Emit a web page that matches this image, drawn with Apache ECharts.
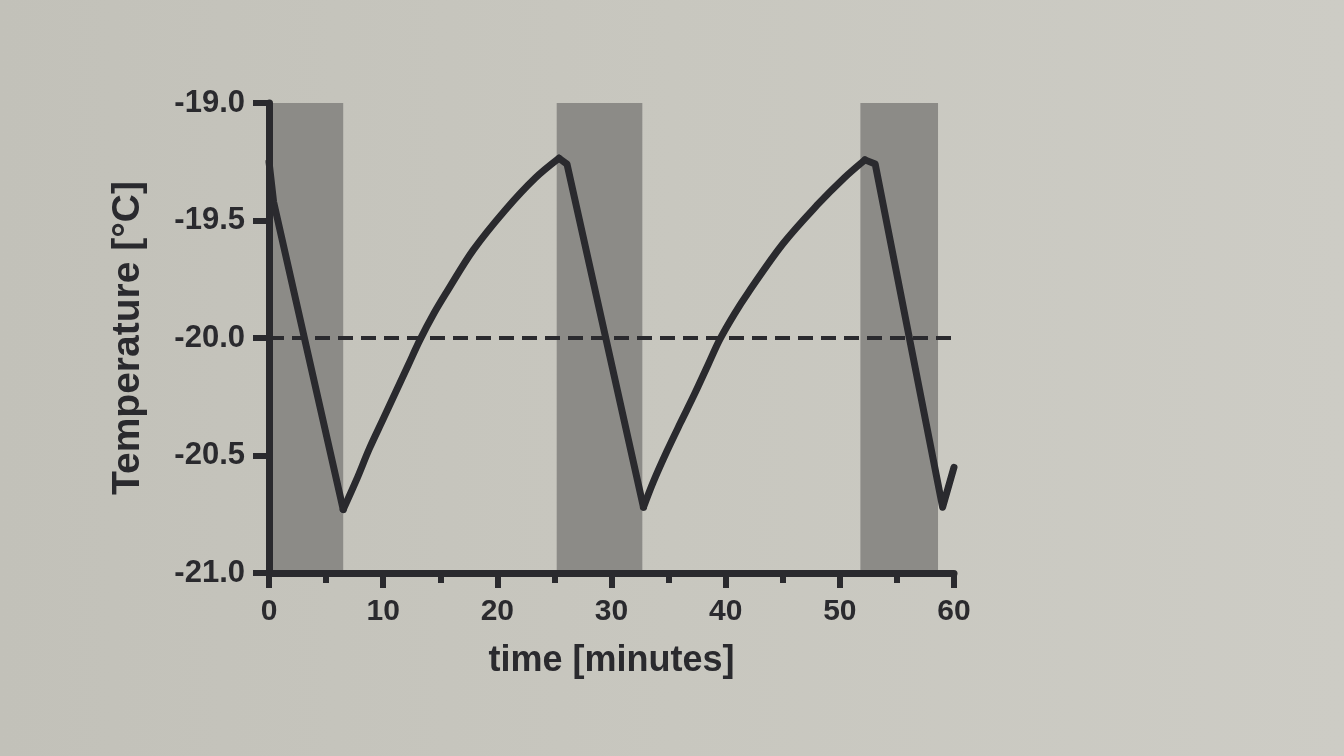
<!DOCTYPE html>
<html>
<head>
<meta charset="utf-8">
<script src="https://cdn.jsdelivr.net/npm/echarts@6/dist/echarts.min.js"></script>
<style>
  html, body { margin: 0; padding: 0; }
  body { width: 1344px; height: 756px; background: linear-gradient(90deg, #c2c1b9 0%, #c8c7bf 50%, #cdccc5 100%); }
  #chart { width: 1344px; height: 756px; }
</style>
</head>
<body>
<div id="chart"></div>
<script>
// time [minutes]
const timeValues = [0, 0.4, 6.5, 7.65, 8.8, 10.0, 11.1, 12.2, 13.2, 14.45, 15.56, 17.9, 20.7, 23.3, 25.4, 26.1,
                    32.8, 33.68, 34.85, 36.03, 37.23, 38.45, 39.5, 40.8, 42.0, 45.0, 48.0, 50.4, 52.2, 53.1, 59.0, 60];
// Temperature [°C]
const tempValues = [-19.25, -19.42, -20.73, -20.605, -20.47, -20.345, -20.23, -20.115, -20.01, -19.895, -19.805, -19.625, -19.455, -19.32, -19.235, -19.26,
                    -20.72, -20.61, -20.482, -20.362, -20.243, -20.115, -20.005, -19.895, -19.805, -19.60, -19.435, -19.318, -19.242, -19.26, -20.72, -20.55];
// index ranges of the warming (curved) stretches of the trace; the rest are straight cooling ramps
const warmingRanges = [[2, 14], [16, 28]];
const straightRanges = [[0, 2], [14, 16], [28, 31]];
// shaded intervals [start, end] in minutes
const bandStarts = [0, 25.2, 51.8];
const bandEnds = [6.5, 32.7, 58.6];
// reference (set point) temperature
const refTimes = [0, 60];
const refTemp = -20.0;
// axis ticks
const yTicks = [-21.0, -20.5, -20.0, -19.5, -19.0];
const xTicks = [0, 10, 20, 30, 40, 50, 60];

const ink = '#2a2a2e';
const font = 'Liberation Sans, Arial, Helvetica, sans-serif';

const chart = echarts.init(document.getElementById('chart'), null, { renderer: 'canvas' });

const pts = timeValues.map((t, i) => [t, tempValues[i]]);
const slice = r => pts.slice(r[0], r[1] + 1);
const refData = refTimes.map(t => [t, refTemp]);
const bands = bandStarts.map((s, i) => [
  { xAxis: s, yAxis: yTicks[yTicks.length - 1] },
  { xAxis: bandEnds[i], yAxis: yTicks[0] }
]);

const traceStyle = { color: ink, width: 7, join: 'round', cap: 'round' };
const traceSeries = [];
warmingRanges.forEach(r => traceSeries.push({
  type: 'line', data: slice(r), showSymbol: false, symbol: 'none',
  smooth: 0.35, lineStyle: traceStyle, z: 3
}));
straightRanges.forEach(r => traceSeries.push({
  type: 'line', data: slice(r), showSymbol: false, symbol: 'none',
  smooth: false, lineStyle: traceStyle, z: 3
}));

chart.setOption({
  backgroundColor: 'transparent',
  animation: false,
  grid: { left: 269, right: 390, top: 103, bottom: 183, containLabel: false },
  xAxis: {
    type: 'value',
    z: 5,
    min: xTicks[0],
    max: xTicks[xTicks.length - 1],
    interval: 10,
    name: 'time [minutes]',
    nameLocation: 'middle',
    nameGap: 70,
    nameTextStyle: { color: ink, fontFamily: font, fontWeight: 'bold', fontSize: 36 },
    axisLine: { show: true, onZero: false, lineStyle: { color: ink, width: 7 } },
    axisTick: { show: true, length: 15, lineStyle: { color: ink, width: 6 } },
    minorTick: { show: true, splitNumber: 2, length: 10, lineStyle: { color: ink, width: 6 } },
    splitLine: { show: false },
    minorSplitLine: { show: false },
    axisLabel: { color: ink, fontFamily: font, fontWeight: 'bold', fontSize: 30, margin: 24 }
  },
  yAxis: {
    type: 'value',
    z: 5,
    min: yTicks[0],
    max: yTicks[yTicks.length - 1],
    interval: 0.5,
    name: 'Temperature [°C]',
    nameLocation: 'middle',
    nameGap: 121,
    nameTextStyle: { color: ink, fontFamily: font, fontWeight: 'bold', fontSize: 39 },
    axisLine: { show: true, onZero: false, lineStyle: { color: ink, width: 7 } },
    axisTick: { show: true, length: 16, lineStyle: { color: ink, width: 6 } },
    splitLine: { show: false },
    axisLabel: {
      color: ink, fontFamily: font, fontWeight: 'bold', fontSize: 31, margin: 24,
      formatter: v => v.toFixed(1)
    }
  },
  series: [
    {
      type: 'line',
      data: [],
      silent: true,
      markArea: {
        silent: true,
        itemStyle: { color: '#8c8b87', opacity: 1 },
        data: bands
      },
      z: 1
    },
    {
      type: 'line',
      data: refData,
      showSymbol: false,
      symbol: 'none',
      lineStyle: { color: ink, width: 4, type: [15, 8] },
      z: 2
    }
  ].concat(traceSeries)
});
</script>
</body>
</html>
